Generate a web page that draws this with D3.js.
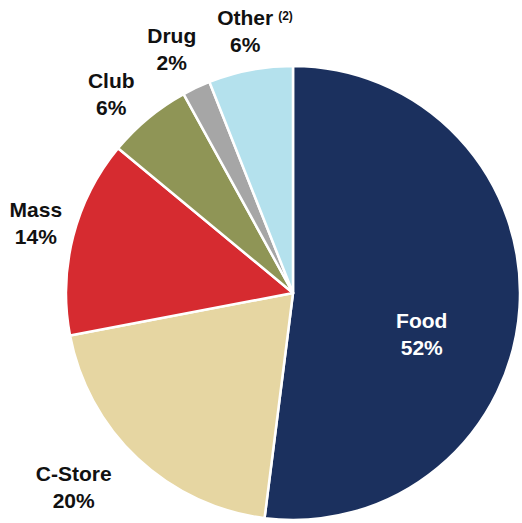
<!DOCTYPE html>
<html>
<head>
<meta charset="utf-8">
<script src="https://cdn.jsdelivr.net/npm/d3@7"></script>
<style>
  body { margin: 0; background: #fff; }
  text { font-family: "Liberation Sans", Arial, sans-serif; font-weight: bold; }
</style>
</head>
<body>
<div id="chart"></div>
<script>
// channel mix data
const categories = ["Food", "C-Store", "Mass", "Club", "Drug", "Other"];
const shares = [52, 20, 14, 6, 2, 6];
const colors = ["#1b305e", "#e6d6a2", "#d62b30", "#8f9556", "#a6a6a6", "#b4e1ed"];

// label placement (angle in degrees from 12 o'clock, radius from centre)
const labelAngle = [110, 227.6, 284, 316.7, 333, 349.4];
const labelRadius = [137, 297, 265, 265, 267, 260];

const width = 522, height = 523;
const cx = 293, cy = 293, r = 227;

const svg = d3.select('#chart')
  .append('svg')
  .attr('width', width)
  .attr('height', height);

const g = svg.append('g').attr('transform', `translate(${cx},${cy})`);

const pie = d3.pie().sort(null).value(d => d);
const arc = d3.arc().innerRadius(0).outerRadius(r);
const arcs = pie(shares);

g.selectAll('path')
  .data(arcs)
  .enter()
  .append('path')
  .attr('d', arc)
  .attr('fill', (d, i) => colors[i])
  .attr('stroke', '#fff')
  .attr('stroke-width', 2.5)
  .attr('stroke-linejoin', 'round');

const labels = g.selectAll('g.lbl')
  .data(arcs)
  .enter()
  .append('g')
  .attr('class', 'lbl')
  .attr('transform', (d, i) => {
    const a = labelAngle[i] * Math.PI / 180;
    const x = Math.sin(a) * labelRadius[i];
    const y = -Math.cos(a) * labelRadius[i];
    return `translate(${x},${y})`;
  });

labels.append('text')
  .attr('text-anchor', 'middle')
  .attr('y', -12)
  .attr('font-size', 21)
  .attr('fill', (d, i) => i === 0 ? '#fff' : '#111')
  .text((d, i) => categories[i]);

labels.append('text')
  .attr('text-anchor', 'middle')
  .attr('y', 15)
  .attr('font-size', 21)
  .attr('fill', (d, i) => i === 0 ? '#fff' : '#111')
  .text(d => d.value + '%');

// footnote marker on "Other"
labels.filter((d, i) => categories[i] === 'Other')
  .append('text')
  .attr('x', 33)
  .attr('y', -17)
  .attr('font-size', 12)
  .attr('fill', '#111')
  .text('(2)');
</script>
</body>
</html>
